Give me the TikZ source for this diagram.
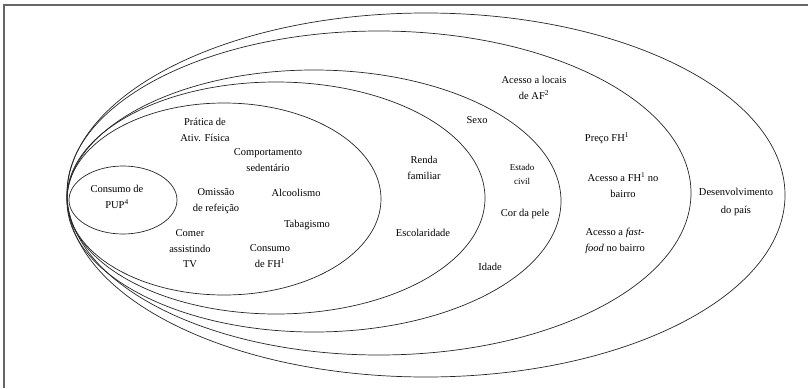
\documentclass[tikz,border=0pt]{standalone}
\usepackage{fontspec}
\setmainfont{Liberation Serif}
\begin{document}
\begin{tikzpicture}[x=1pt,y=-1pt,
  ring/.style={draw=black!85, line width=0.7pt},
  lbl/.style={align=center, inner sep=0pt, font=\fontsize{10.5}{15.5}\selectfont},
  small/.style={align=center, inner sep=0pt, font=\fontsize{9}{14}\selectfont}]
\useasboundingbox (0,0) rectangle (808,388);
% frame (top and left edges only)
\draw[black!60, line width=1.4pt] (4,388) -- (4,5) -- (808,5);
% nested ellipses
\draw[ring] (426,195) ellipse [x radius=359pt, y radius=182pt];
\draw[ring] (379,193) ellipse [x radius=312pt, y radius=162pt];
\draw[ring] (314,201) ellipse [x radius=247pt, y radius=131pt];
\draw[ring] (276,198) ellipse [x radius=209pt, y radius=116pt];
\draw[ring] (224,199) ellipse [x radius=157pt, y radius=96pt];
\draw[ring] (123,200) ellipse [x radius=54pt, y radius=34pt];
% labels
\node[lbl] (pup) at (117,197) {Consumo de\\PUP\textsuperscript{4}};
\node[lbl] (pratica) at (205,130) {Prática de\\Ativ. Física};
\node[lbl] (comport) at (268,160) {Comportamento\\sedentário};
\node[lbl] (omissao) at (216,201) {Omissão\\de refeição};
\node[lbl] (alcool) at (296,193) {Alcoolismo};
\node[lbl] (tabag) at (307,225) {Tabagismo};
\node[lbl] (comer) at (190,249) {Comer\\assistindo\\TV};
\node[lbl] (consfh) at (270,256) {Consumo\\de FH\textsuperscript{1}};
\node[lbl] (renda) at (424,168) {Renda\\familiar};
\node[lbl] (escol) at (423,233) {Escolaridade};
\node[lbl] (sexo) at (477,120) {Sexo};
\node[small] (estado) at (522,174) {Estado\\civil};
\node[lbl] (cor) at (525,214) {Cor da pele};
\node[lbl] (idade) at (490,267) {Idade};
\node[lbl] (locais) at (534,88) {Acesso a locais\\de AF\textsuperscript{2}};
\node[lbl] (preco) at (607,138) {Preço FH\textsuperscript{1}};
\node[lbl] (acessofh) at (623,185) {Acesso a FH\textsuperscript{1} no\\bairro};
\node[lbl] (fastfood) at (615,241) {Acesso a \textit{fast-}\\\textit{food} no bairro};
\node[lbl, font=\fontsize{10.5}{18}\selectfont] (desenv) at (736,202) {Desenvolvimento\\do país};
\end{tikzpicture}
\end{document}
